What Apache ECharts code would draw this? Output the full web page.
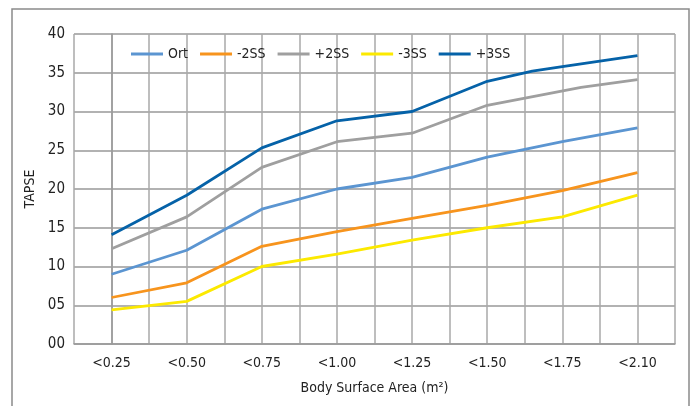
<!DOCTYPE html>
<html>
<head>
<meta charset="utf-8">
<script src="https://cdn.jsdelivr.net/npm/echarts@6/dist/echarts.min.js"></script>
<style>
html,body{margin:0;padding:0;background:#fff;}
#chart{width:695px;height:406px;}
</style>
</head>
<body>
<div id="chart"></div>
<script>
// Category labels (x axis)
const categories = ['<0.25', '<0.50', '<0.75', '<1.00', '<1.25', '<1.50', '<1.75', '<2.10'];
const seriesNames = ['Ort', '-2SS', '+2SS', '-3SS', '+3SS'];
const yTicks = ['00', '05', '10', '15', '20', '25', '30', '35', '40'];

// Values at each category (index 0..7)
const ort    = [9.0, 12.1, 17.4, 20.0, 21.5, 24.1, 26.1, 27.9];
const minus2 = [6.0, 7.9, 12.6, 14.5, 16.2, 17.9, 19.8, 22.1];
const minus3 = [4.4, 5.5, 10.0, 11.6, 13.4, 15.0, 16.4, 19.2];
// Series with an extra reading between categories: [category position, value]
const plus2  = [[0, 12.3], [1, 16.4], [2, 22.8], [3, 26.1], [4, 27.2], [5, 30.8], [6.25, 33.1], [7, 34.1]];
const plus3  = [[0, 14.1], [1, 19.2], [2, 25.3], [3, 28.8], [4, 30.0], [5, 33.9], [5.6, 35.2], [6, 35.8], [7, 37.2]];

const colors = ['#5b95d1', '#f7941d', '#9f9f9f', '#fce900', '#0562a8'];
const font = "'Liberation Sans Narrow', 'DejaVu Sans Condensed', 'Arial Narrow', sans-serif";

const toPairs = arr => arr.map((v, i) => [i, v]);
const dataSets = [toPairs(ort), toPairs(minus2), plus2, toPairs(minus3), plus3];

const chart = echarts.init(document.getElementById('chart'), null, {renderer: 'canvas'});
chart.setOption({
  animation: false,
  backgroundColor: '#fff',
  color: colors,
  textStyle: {fontFamily: font},
  graphic: [{
    type: 'rect',
    shape: {x: 12, y: 9, width: 677, height: 410},
    style: {fill: 'none', stroke: '#8a8a8a', lineWidth: 1.5},
    silent: true,
    z: -1
  }],
  grid: {left: 74, right: 20, top: 34, bottom: 62, containLabel: false},
  legend: {
    left: 131, top: 47, padding: 0,
    icon: 'rect',
    itemWidth: 32, itemHeight: 3, itemGap: 12,
    textStyle: {fontFamily: font, fontSize: 14, color: '#222'},
    data: seriesNames
  },
  xAxis: {
    type: 'value',
    min: -0.5, max: 7.5, interval: 0.5,
    name: 'Body Surface Area (m²)',
    nameLocation: 'middle', nameGap: 37,
    nameTextStyle: {fontFamily: font, fontSize: 14, color: '#222'},
    axisLine: {show: true, lineStyle: {color: '#999', width: 1.5}},
    axisTick: {show: false},
    axisLabel: {
      fontFamily: font, fontSize: 14, color: '#222', margin: 12,
      formatter: v => {
        const r = Math.round(v);
        return Math.abs(v - r) < 1e-6 && r >= 0 && r < categories.length ? categories[r] : '';
      }
    },
    splitLine: {show: true, lineStyle: {color: '#a8a8a8', width: 1.5}}
  },
  yAxis: {
    type: 'value',
    min: 0, max: 40, interval: 5,
    name: 'TAPSE',
    nameLocation: 'middle', nameGap: 35, nameRotate: 90,
    nameTextStyle: {fontFamily: font, fontSize: 14, color: '#222'},
    axisLine: {show: true, lineStyle: {color: '#999', width: 1.5}},
    axisTick: {show: false},
    axisLabel: {
      fontFamily: font, fontSize: 15, color: '#222', margin: 9,
      formatter: v => yTicks[Math.round(v / 5)]
    },
    splitLine: {show: true, lineStyle: {color: '#999', width: 1.5}}
  },
  series: seriesNames.map((name, i) => ({
    name: name,
    type: 'line',
    data: dataSets[i],
    symbol: 'none',
    lineStyle: {width: 2.8, color: colors[i]},
    itemStyle: {color: colors[i]},
    z: 2 + i
  }))
});
</script>
</body>
</html>
